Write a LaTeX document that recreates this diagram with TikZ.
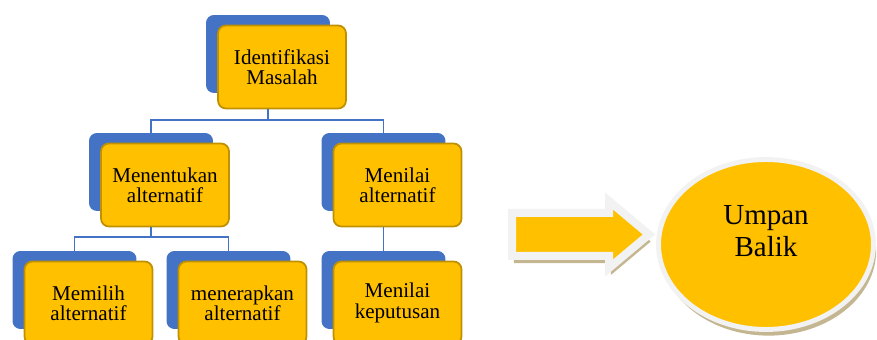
\documentclass[tikz,border=0pt]{standalone}
\usepackage{fontspec}
\setmainfont{Liberation Serif}
\usetikzlibrary{shapes.geometric,shapes.arrows,shadows}
\definecolor{boxblue}{HTML}{4472C4}
\definecolor{boxgold}{HTML}{FFC000}
\definecolor{boxedge}{HTML}{BF9000}
\definecolor{rim}{HTML}{F2F2F2}
\definecolor{shade}{HTML}{BDAE84}

\begin{document}
\begin{tikzpicture}[x=0.02cm,y=-0.02cm,
    back/.style={rectangle,rounded corners=4.5pt,fill=boxblue,
      minimum width=2.48cm,minimum height=1.56cm,inner sep=0pt},
    front/.style={rectangle,rounded corners=4.5pt,fill=boxgold,draw=boxedge,
      line width=1pt,minimum width=2.56cm,minimum height=1.66cm,inner sep=0pt,
      align=center,font=\fontsize{12}{11.6}\selectfont},
    conn/.style={draw=boxblue,line width=1.1pt}]
    \useasboundingbox (0,0) rectangle (877,340);
    \clip (0,0) rectangle (877,340);

    % blue boxes behind
    \node[back] (idB) at (268,54) {};
    \node[back] (mtB) at (151,172) {};
    \node[back] (naB) at (383.5,172) {};
    \node[back] (mpB) at (74.5,290) {};
    \node[back] (mrB) at (228.5,290) {};
    \node[back] (nkB) at (383.5,290) {};

    % yellow boxes in front
    \node[front] (id) at ([shift={(14,13)}]idB) {Identifikasi\\Masalah};
    \node[front] (mt) at ([shift={(14,13)}]mtB) {Menentukan\\alternatif};
    \node[front] (na) at ([shift={(14,13)}]naB) {Menilai\\alternatif};
    \node[front] (mp) at ([shift={(14,13)}]mpB) {Memilih\\alternatif};
    \node[front] (mr) at ([shift={(14,13)}]mrB) {menerapkan\\alternatif};
    \node[front] (nk) at ([shift={(14,13)}]nkB) {Menilai\\keputusan};

    \draw[conn] (id.south -| idB) -- ++(0,11) coordinate (j1) -| (mtB.north);
    \draw[conn] (j1) -| (naB.north);
    \draw[conn] (mt.south -| mtB) -- ++(0,10) coordinate (j2) -| (mpB.north);
    \draw[conn] (j2) -| (mrB.north);
    \draw[conn] (na.south -| naB) -- (nkB.north);

    \node[single arrow,anchor=west,fill=boxgold,draw=rim,line width=0.16cm,
      minimum height=2.74cm,inner xsep=0pt,inner ysep=0.35cm,
      single arrow head extend=0.24cm,single arrow tip angle=80,
      drop shadow={shadow xshift=1pt,shadow yshift=-4pt,fill=shade,opacity=0.9}]
      (arr) at (508,234.5) {};
    \node[ellipse,fill=boxgold,draw=rim,line width=2.8pt,
      minimum width=4.3cm,minimum height=3.4cm,inner sep=0pt,align=center,
      font=\fontsize{16.5}{18}\selectfont,
      drop shadow={shadow xshift=1.5pt,shadow yshift=-3.5pt,fill=shade,opacity=0.9}]
      (ub) at (766,244.5) {Umpan\\Balik\\[-2.7pt]\mbox{}};
\end{tikzpicture}
\end{document}
